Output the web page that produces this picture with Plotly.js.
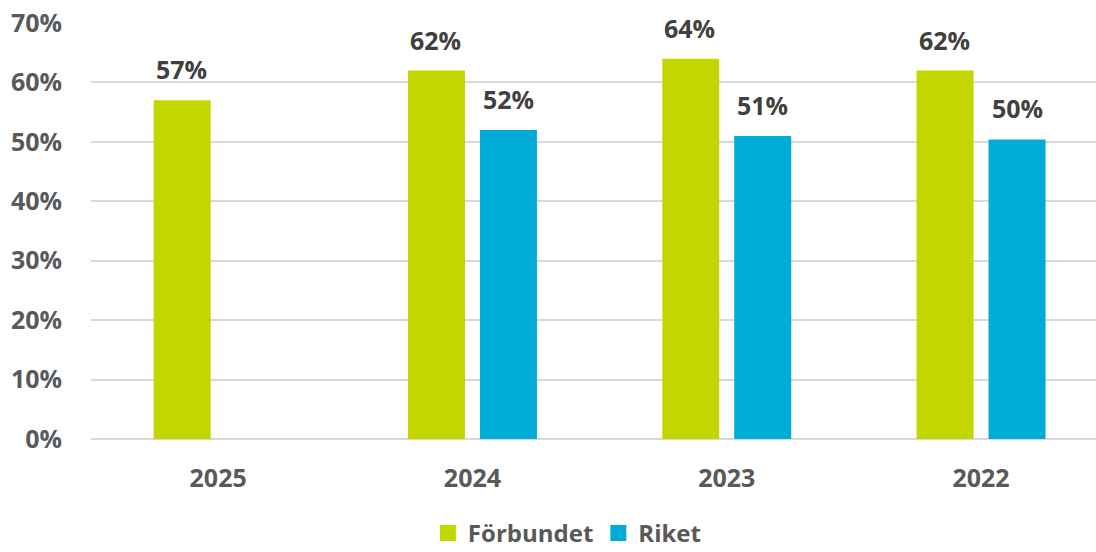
<!DOCTYPE html>
<html>
<head>
<meta charset="utf-8">
<script src="https://cdn.plot.ly/plotly-3.0.1.min.js"></script>
<style>html,body{margin:0;padding:0;background:#fff;overflow:hidden;width:1096px;height:552px;}#chart{width:1096px;height:552px;}</style>
</head>
<body>
<div id="chart"></div>
<script>
const years = ['2025', '2024', '2023', '2022'];
const forbundet = [57, 62, 64, 62];
const riket = [null, 52, 51, 50.4];
const seriesNames = ['Förbundet', 'Riket'];
const colors = ['#c4d600', '#00acd7'];
const yTicks = [0, 10, 20, 30, 40, 50, 60, 70];

const fam = '"Open Sans", "Noto Sans", sans-serif';
const font = {family: fam, size: 25, color: '#595959', weight: 700};

const traces = [forbundet, riket].map((vals, i) => ({
  type: 'bar', x: years, y: vals, name: seriesNames[i],
  marker: {color: colors[i]}, hoverinfo: 'none', showlegend: false
}));
// legend entries with larger square swatches
seriesNames.forEach((n, i) => traces.push({
  type: 'scatter', mode: 'markers', x: [null], y: [null], name: n,
  marker: {symbol: 'square', size: 17, color: colors[i]}, hoverinfo: 'none'
}));

const annotations = [];
[forbundet, riket].forEach((vals, i) => {
  vals.forEach((v, j) => {
    if (v === null) return;
    annotations.push({
      x: j, y: v, xref: 'x', yref: 'y', text: Math.round(v) + '%',
      showarrow: false, yanchor: 'bottom', xanchor: 'center',
      xshift: i === 0 ? -37 : 36, yshift: 12,
      font: {family: fam, size: 25, color: '#404040'}
    });
  });
});

const layout = {
  width: 1096, height: 552,
  margin: {l: 91, r: 0, t: 23, b: 113, autoexpand: false},
  paper_bgcolor: '#fff', plot_bgcolor: '#fff',
  barmode: 'group', bargap: 0.434, bargroupgap: 0.208,
  font: font,
  showlegend: true,
  legend: {orientation: 'h', x: 0.474, xanchor: 'center', y: -0.2812, yanchor: 'bottom',
    itemsizing: 'trace',
    font: {family: fam, size: 24, color: '#595959', weight: 700}},
  xaxis: {type: 'category', range: [-0.5, 3.452], showgrid: false, zeroline: false, showline: false,
    ticks: '', tickfont: font, ticklabelstandoff: 22},
  yaxis: {range: [0, 70], tickvals: yTicks, ticktext: yTicks.map(v => v + '%'),
    showgrid: true, gridcolor: '#d9d9d9', gridwidth: 2, zeroline: true, zerolinecolor: '#d9d9d9', zerolinewidth: 2,
    showline: false, ticks: '', tickfont: font, ticklabelstandoff: 28},
  annotations: annotations
};

Plotly.newPlot('chart', traces, layout, {displayModeBar: false, staticPlot: true});
</script>
</body>
</html>
